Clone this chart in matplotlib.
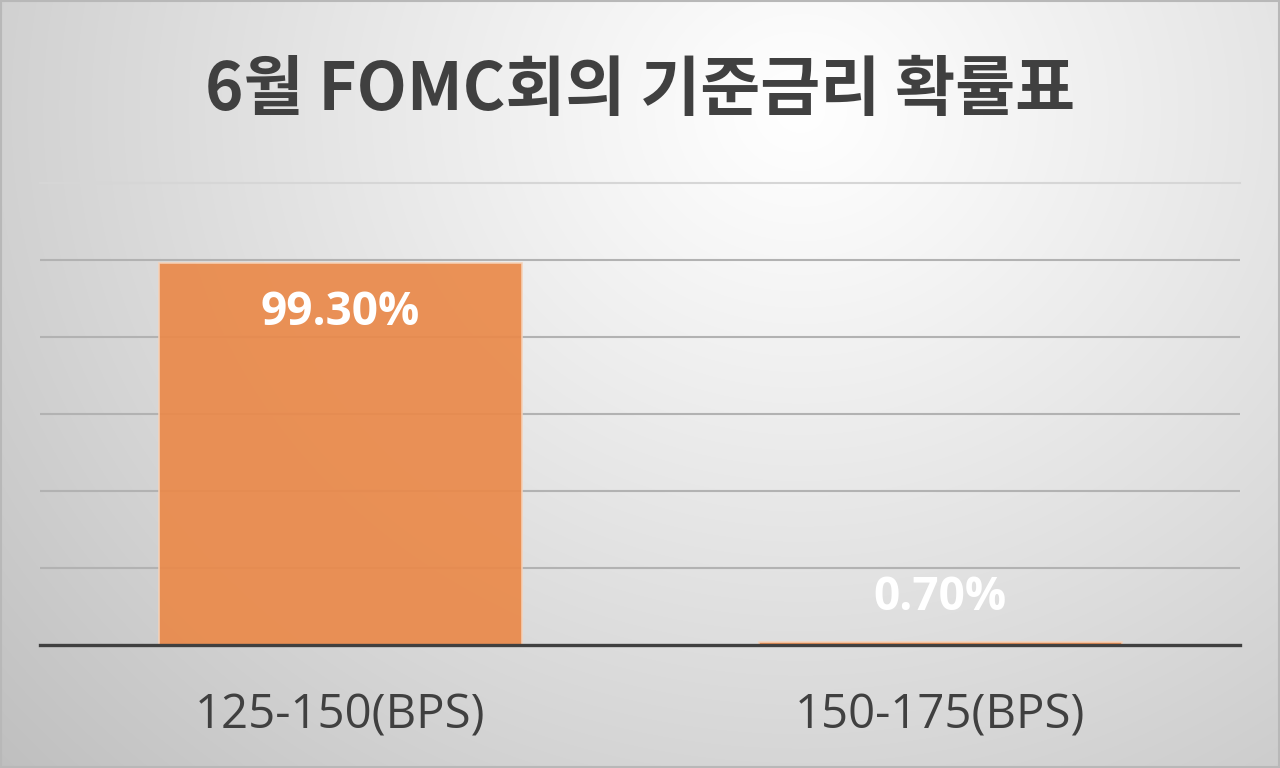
import numpy as np
import matplotlib
matplotlib.use("Agg")
import matplotlib.pyplot as plt
from matplotlib.patches import Rectangle

# ---- data ----
categories = ["125-150(BPS)", "150-175(BPS)"]
values = [99.3, 0.7]
value_labels = ["99.30%", "0.70%"]
title = "6월 FOMC회의 기준금리 확률표"

W, H, DPI = 1280, 768, 100
fig = plt.figure(figsize=(W / DPI, H / DPI), dpi=DPI)

# background radial gradient
bg = fig.add_axes([0, 0, 1, 1], zorder=-10)
yy, xx = np.mgrid[0:H, 0:W]
cx, cy = 800, 110
r = np.sqrt(((xx - cx) / 1.0) ** 2 + ((yy - cy) / 0.9) ** 2)
r = r / r.max()
v = 1.0 - 0.25 * np.clip(r, 0, 1) ** 1.1
img = np.dstack([v, v, v])
bg.imshow(img, extent=[0, W, H, 0], aspect="auto")
bg.add_patch(Rectangle((0.5, 0.5), W - 1.5, H - 1.5, fill=False, ec="#b8b8b8", lw=1.5))
bg.set_xlim(0, W)
bg.set_ylim(H, 0)
bg.axis("off")

ax = fig.add_axes([40 / W, 123 / H, 1200 / W, 462 / H])
ax.patch.set_alpha(0)
x = np.arange(len(categories))
ax.set_xlim(-0.5, len(categories) - 0.5)
ax.set_ylim(0, 120)

for g in [20, 40, 60, 80, 100]:
    ax.axhline(g, color="#b2b2b2", lw=1.5, zorder=1)
ax.axhline(120, color="#d6d6d6", lw=1.5, zorder=1, clip_on=False)

bars = ax.bar(x, values, width=0.605, color="#ea8a4b", alpha=0.93,
              edgecolor="#f6d2b8", linewidth=1.2, zorder=2)
ax.axhline(0, color="#404040", lw=2.4, zorder=3, clip_on=False)

for xi, val, lab in zip(x, values, value_labels):
    off = -36 if val > 50 else 32
    ax.annotate(lab, (xi, val), xytext=(0, off), textcoords="offset points",
                ha="center", va="center", color="white", fontsize=33,
                fontweight="bold", family=["Open Sans", "DejaVu Sans"], zorder=4)

ax.set_xticks(x)
ax.set_xticklabels(categories, fontsize=34, color="#404040",
                   family=["Open Sans", "DejaVu Sans"])
ax.tick_params(axis="x", length=0, pad=34)
ax.set_yticks([])
for s in ax.spines.values():
    s.set_visible(False)

fig.text(0.5, 0.882, title, ha="center", va="center", fontsize=47,
         fontweight="bold", color="#404040",
         family=["Noto Sans CJK KR", "DejaVu Sans"])

fig.savefig("out.png", dpi=DPI)
